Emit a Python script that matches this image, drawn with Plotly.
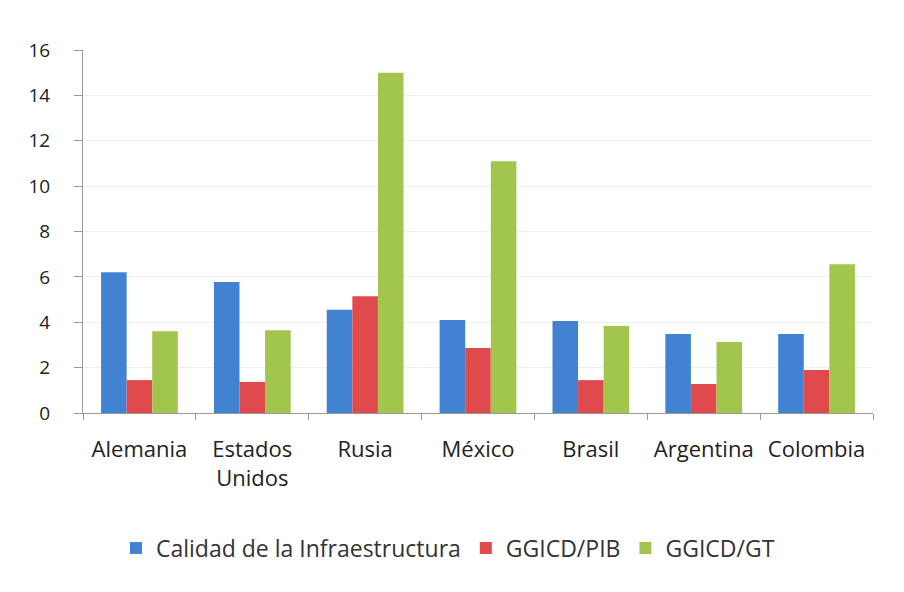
import plotly.graph_objects as go

categories = ["Alemania", "Estados<br>Unidos", "Rusia", "México", "Brasil", "Argentina", "Colombia"]
calidad = [6.2, 5.77, 4.55, 4.1, 4.05, 3.48, 3.48]
ggicd_pib = [1.45, 1.37, 5.15, 2.86, 1.45, 1.28, 1.9]
ggicd_gt = [3.6, 3.65, 15.0, 11.1, 3.83, 3.13, 6.56]
y_ticks = [0, 2, 4, 6, 8, 10, 12, 14, 16]

series = [
    ("Calidad de la Infraestructura", calidad, "#4282d3"),
    ("GGICD/PIB", ggicd_pib, "#e04a4d"),
    ("GGICD/GT", ggicd_gt, "#a2c64d"),
]

fig = go.Figure()
for name, vals, col in series:
    fig.add_trace(go.Bar(x=categories, y=vals, name=name, marker=dict(color=col, line=dict(width=0))))

font = "'Open Sans', sans-serif"
fig.update_layout(
    width=904, height=592,
    margin=dict(l=75, r=39, t=42, b=187),
    paper_bgcolor="white", plot_bgcolor="white",
    barmode="group", bargap=0.32, bargroupgap=0,
    font=dict(family=font, size=22, color="#222222"),
    legend=dict(orientation="h", x=0.462, xanchor="center", y=-0.372, yanchor="middle",
                font=dict(size=23, color="#333333"), itemwidth=30, traceorder="normal"),
    xaxis=dict(type="category", showline=True, linecolor="#9a9a9a", linewidth=1,
               ticks="outside", tickson="boundaries", ticklen=6, tickcolor="#9a9a9a",
               ticklabelstandoff=17, showgrid=False, automargin=False,
               tickfont=dict(size=22)),
    yaxis=dict(range=[0, 16], tickvals=y_ticks, showline=True, linecolor="#9a9a9a", linewidth=1,
               ticks="outside", ticklen=8, tickcolor="#9a9a9a", showgrid=True,
               gridcolor="#f0f0f0", zeroline=False, ticklabelstandoff=20, automargin=False,
               tickfont=dict(size=19)),
)
fig.write_html("out.html")
